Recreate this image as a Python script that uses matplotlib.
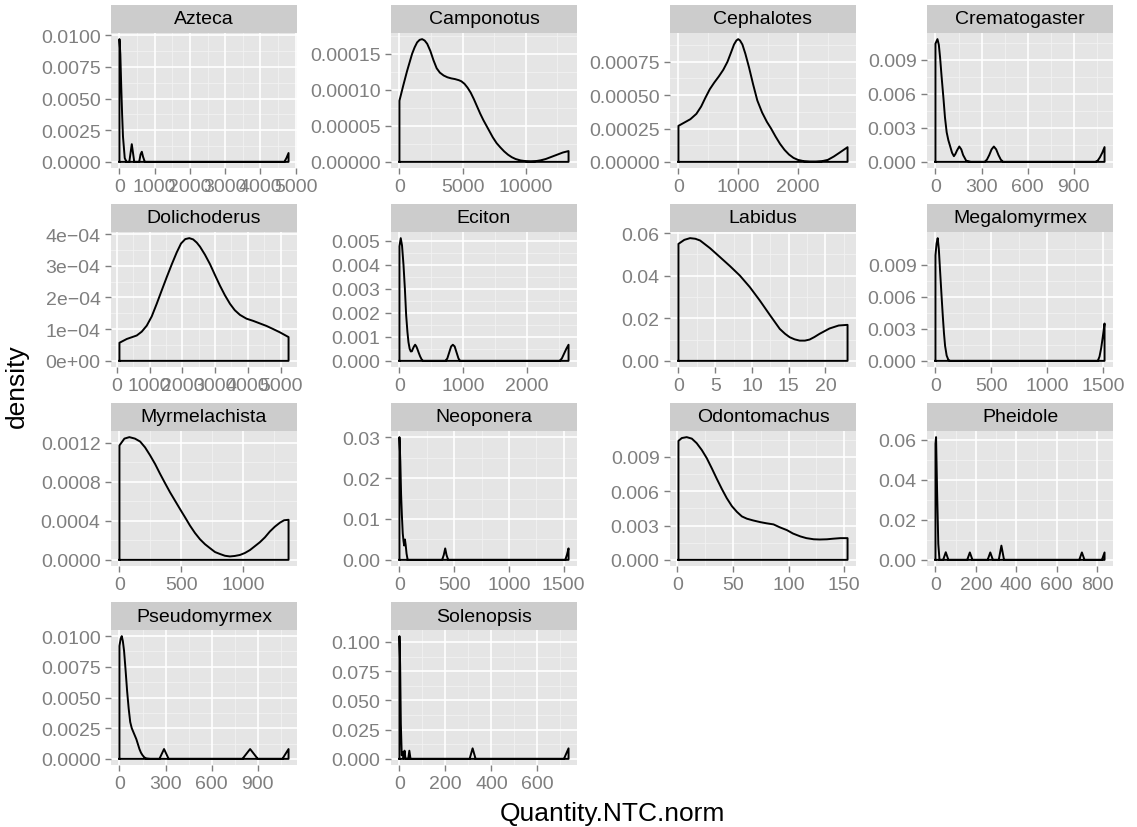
import matplotlib
matplotlib.use("Agg")
import matplotlib.pyplot as plt

plt.rcParams['font.family'] = ['Liberation Sans', 'DejaVu Sans']

# density curves (x = Quantity.NTC.norm, y = density)
azteca_x = [0, 25, 50, 75, 100, 150, 200, 280, 320, 350, 380, 420, 560, 600, 635, 670, 720, 4680, 4740, 4800]
azteca_y = [0.0097, 0.0085, 0.006, 0.0038, 0.002, 0.0003, 0, 0, 0.0008, 0.0014, 0.0008, 0, 0, 0.0006, 0.0008, 0.0004, 0, 0, 0.0003, 0.0007]

camponotus_x = [0, 300, 600, 1000, 1200, 1400, 1600, 1800, 2000, 2200, 2450, 2700, 2950, 3200, 3500, 3800,
                4100, 4400, 4700, 4900, 5150, 5400, 5650, 5900, 6150, 6400, 6650, 6900, 7150, 7400, 7700,
                8000, 8300, 8600, 8900, 9200, 9600, 10000, 10400, 10800, 11200, 11600, 12050, 12500, 12950, 13400]
camponotus_y = [8.5e-5, 10.6e-5, 12.6e-5, 15.0e-5, 15.9e-5, 16.6e-5, 16.95e-5, 17.05e-5, 16.85e-5, 16.4e-5,
                15.4e-5, 14.1e-5, 13.0e-5, 12.4e-5, 12.0e-5, 11.75e-5, 11.6e-5, 11.5e-5, 11.35e-5, 11.2e-5,
                10.85e-5, 10.3e-5, 9.6e-5, 8.7e-5, 7.7e-5, 6.7e-5, 5.8e-5, 5.0e-5, 4.2e-5, 3.4e-5, 2.6e-5,
                2.0e-5, 1.45e-5, 1.0e-5, 0.65e-5, 0.4e-5, 0.2e-5, 0.1e-5, 0.07e-5, 0.1e-5, 0.22e-5,
                0.4e-5, 0.7e-5, 1.0e-5, 1.3e-5, 1.5e-5]

cephalotes_x = [0, 100, 200, 300, 380, 450, 525, 600, 675, 750, 820, 880, 930, 970, 1000, 1030, 1070, 1120,
                1180, 1250, 1320, 1400, 1480, 1550, 1625, 1700, 1775, 1850, 1925, 2000, 2100, 2200, 2300,
                2400, 2500, 2600, 2700, 2830]
cephalotes_y = [2.7e-4, 2.95e-4, 3.2e-4, 3.6e-4, 4.15e-4, 4.8e-4, 5.45e-4, 5.95e-4, 6.4e-4, 6.9e-4, 7.5e-4,
                8.2e-4, 8.8e-4, 9.1e-4, 9.2e-4, 9.1e-4, 8.8e-4, 8.1e-4, 7.1e-4, 5.8e-4, 4.6e-4, 3.7e-4,
                3.0e-4, 2.5e-4, 1.9e-4, 1.35e-4, 0.9e-4, 0.55e-4, 0.3e-4, 0.15e-4, 0.05e-4, 0.02e-4,
                0.02e-4, 0.05e-4, 0.15e-4, 0.4e-4, 0.7e-4, 1.1e-4]

crematogaster_x = [0, 13, 22, 30, 40, 52, 62, 73, 84, 95, 108, 120, 130, 140, 155, 168, 180, 200, 230,
                   320, 335, 350, 365, 380, 395, 410, 425, 440, 1040, 1055, 1070, 1085, 1100]
crematogaster_y = [0.0104, 0.0108, 0.0103, 0.0092, 0.0075, 0.0056, 0.0039, 0.0026, 0.0019, 0.0014, 0.0008,
                   0.0005, 0.0007, 0.001, 0.00135, 0.0011, 0.0006, 0.0001, 0, 0, 0.0002, 0.0006, 0.0011,
                   0.00135, 0.0011, 0.0006, 0.0002, 0, 0, 0.0001, 0.0004, 0.0008, 0.0013]

dolichoderus_x = [80, 303, 608, 760, 913, 1065, 1218, 1370, 1524, 1680, 1829, 1960, 2090, 2213, 2330, 2440,
                  2540, 2690, 2845, 3000, 3150, 3300, 3455, 3600, 3760, 3960, 4167, 4370, 4573, 4780, 4980, 5244]
dolichoderus_y = [0.57e-4, 0.69e-4, 0.8e-4, 0.92e-4, 1.11e-4, 1.4e-4, 1.8e-4, 2.22e-4, 2.64e-4, 3.05e-4,
                  3.42e-4, 3.7e-4, 3.84e-4, 3.87e-4, 3.83e-4, 3.73e-4, 3.6e-4, 3.35e-4, 3.05e-4, 2.7e-4,
                  2.37e-4, 2.07e-4, 1.8e-4, 1.6e-4, 1.45e-4, 1.33e-4, 1.26e-4, 1.18e-4, 1.1e-4, 1.0e-4,
                  0.9e-4, 0.75e-4]

eciton_x = [0, 20, 40, 63, 85, 105, 125, 141, 160, 178, 195, 210, 228, 246, 264, 280, 300, 325, 350, 370,
            720, 750, 780, 810, 837, 865, 895, 925, 950, 2510, 2545, 2580, 2615, 2650]
eciton_y = [0.00476, 0.0051, 0.0048, 0.004, 0.003, 0.0019, 0.0012, 0.00078, 0.0005, 0.00039, 0.0004,
            0.0005, 0.0006, 0.00067, 0.0006, 0.0005, 0.00035, 0.00018, 0.00005, 0, 0, 0.0001, 0.00035,
            0.0006, 0.00067, 0.0006, 0.00035, 0.0001, 0, 0, 0.0001, 0.0003, 0.0005, 0.00067]

labidus_x = [0, 0.8, 1.58, 2.3, 2.94, 4.29, 5.65, 7.0, 8.36, 9.71, 11.07, 12.42, 13.78, 14.5, 15.13, 15.8,
             16.49, 17.2, 17.84, 18.5, 19.2, 20.55, 21.8, 23]
labidus_y = [0.0549, 0.0568, 0.0576, 0.0573, 0.0565, 0.0529, 0.0487, 0.0445, 0.04, 0.0346, 0.0283, 0.0216,
             0.015, 0.0127, 0.0111, 0.0101, 0.0095, 0.0095, 0.01, 0.0112, 0.0127, 0.0152, 0.0166, 0.0169]

megalomyrmex_x = [0, 10, 20, 30, 42, 55, 65, 76, 86, 100, 115, 130, 1450, 1465, 1480, 1495, 1510]
megalomyrmex_y = [0.0099, 0.011, 0.0115, 0.0105, 0.0083, 0.006, 0.0043, 0.0026, 0.0014, 0.0005, 0.0001,
                  0, 0, 0.0004, 0.0012, 0.0023, 0.0035]

myrmelachista_x = [0, 40, 80, 125, 167, 207, 247, 288, 328, 368, 409, 449, 489, 530, 570, 610, 651, 691, 731,
                   772, 812, 852, 892, 932, 973, 1013, 1054, 1094, 1134, 1175, 1215, 1256, 1296, 1330, 1366]
myrmelachista_y = [0.00117, 0.00124, 0.001255, 0.00124, 0.00121, 0.00115, 0.00107, 0.00098, 0.00088,
                   0.000785, 0.00069, 0.000605, 0.00052, 0.000435, 0.00035, 0.000275, 0.00021, 0.00016,
                   0.00012, 0.00008, 0.00006, 0.000042, 0.000035, 0.00004, 0.00005, 0.00007, 0.0001,
                   0.00014, 0.00018, 0.00023, 0.00029, 0.00034, 0.00038, 0.000405, 0.00041]

neoponera_x = [0, 8, 15, 22, 30, 37, 43, 50, 57, 65, 75, 390, 405, 418, 430, 445, 1515, 1530, 1545]
neoponera_y = [0.030, 0.024, 0.016, 0.011, 0.0065, 0.0046, 0.0035, 0.005, 0.0036, 0.0015, 0, 0, 0.0012,
               0.0028, 0.0012, 0, 0, 0.0012, 0.0028]

odontomachus_x = [1, 4, 8.4, 13, 17.4, 22, 26.4, 31, 35.4, 40, 44.4, 49, 53.5, 58, 62.5, 68, 74.5, 80, 86.5,
                  92, 98.5, 104, 110.6, 116, 122.6, 128, 134.6, 140, 146.6, 153]
odontomachus_y = [0.0104, 0.01065, 0.01073, 0.0106, 0.0102, 0.0096, 0.0089, 0.008, 0.0071, 0.0062, 0.0054,
                  0.0047, 0.0042, 0.0038, 0.0036, 0.00345, 0.0033, 0.0032, 0.0031, 0.00285, 0.0026,
                  0.0023, 0.00205, 0.0019, 0.0018, 0.00178, 0.0018, 0.00185, 0.0019, 0.0019]

pheidole_x = [0, 3, 8, 14, 20, 38, 51, 64, 157, 170, 183, 258, 271, 284, 313, 326, 339, 711, 724, 737, 823, 836]
pheidole_y = [0.058, 0.0612, 0.035, 0.008, 0, 0, 0.0038, 0, 0, 0.0037, 0, 0, 0.0037, 0, 0, 0.0071, 0, 0,
              0.0037, 0, 0, 0.0037]

pseudomyrmex_x = [0, 8, 15, 22, 30, 40, 50, 60, 70, 80, 90, 100, 110, 120, 130, 140, 150, 162, 175, 200,
                  260, 275, 290, 305, 320, 800, 825, 850, 875, 900, 1060, 1080, 1100]
pseudomyrmex_y = [0.0092, 0.0098, 0.0100, 0.0096, 0.0088, 0.0072, 0.0055, 0.0041, 0.003, 0.0025, 0.0022,
                  0.0019, 0.0016, 0.0012, 0.0008, 0.0005, 0.0003, 0.00012, 0.00003, 0, 0, 0.0004, 0.0008,
                  0.0004, 0, 0, 0.0004, 0.0008, 0.0004, 0, 0, 0.0004, 0.0008]

solenopsis_x = [0, 3, 6, 10, 14, 18, 22, 26, 32, 38, 43, 48, 305, 318, 331, 715, 735]
solenopsis_y = [0.105, 0.08, 0.03, 0.003, 0.006, 0.0005, 0.007, 0.0005, 0, 0, 0.007, 0, 0, 0.009, 0, 0, 0.009]

# axis breaks per panel
xticks = {
    "Azteca": [0, 1000, 2000, 3000, 4000, 5000],
    "Camponotus": [0, 5000, 10000],
    "Cephalotes": [0, 1000, 2000],
    "Crematogaster": [0, 300, 600, 900],
    "Dolichoderus": [0, 1000, 2000, 3000, 4000, 5000],
    "Eciton": [0, 1000, 2000],
    "Labidus": [0, 5, 10, 15, 20],
    "Megalomyrmex": [0, 500, 1000, 1500],
    "Myrmelachista": [0, 500, 1000],
    "Neoponera": [0, 500, 1000, 1500],
    "Odontomachus": [0, 50, 100, 150],
    "Pheidole": [0, 200, 400, 600, 800],
    "Pseudomyrmex": [0, 300, 600, 900],
    "Solenopsis": [0, 200, 400, 600],
}
yticks = {
    "Azteca": [0, 0.0025, 0.005, 0.0075, 0.01],
    "Camponotus": [0, 5e-5, 1e-4, 1.5e-4],
    "Cephalotes": [0, 0.00025, 0.0005, 0.00075],
    "Crematogaster": [0, 0.003, 0.006, 0.009],
    "Dolichoderus": [0, 1e-4, 2e-4, 3e-4, 4e-4],
    "Eciton": [0, 0.001, 0.002, 0.003, 0.004, 0.005],
    "Labidus": [0, 0.02, 0.04, 0.06],
    "Megalomyrmex": [0, 0.003, 0.006, 0.009],
    "Myrmelachista": [0, 0.0004, 0.0008, 0.0012],
    "Neoponera": [0, 0.01, 0.02, 0.03],
    "Odontomachus": [0, 0.003, 0.006, 0.009],
    "Pheidole": [0, 0.02, 0.04, 0.06],
    "Pseudomyrmex": [0, 0.0025, 0.005, 0.0075, 0.01],
    "Solenopsis": [0, 0.025, 0.05, 0.075, 0.1],
}
ytick_labels = {
    "Azteca": ["0.0000", "0.0025", "0.0050", "0.0075", "0.0100"],
    "Camponotus": ["0.00000", "0.00005", "0.00010", "0.00015"],
    "Cephalotes": ["0.00000", "0.00025", "0.00050", "0.00075"],
    "Crematogaster": ["0.000", "0.003", "0.006", "0.009"],
    "Dolichoderus": ["0e+00", "1e\u221204", "2e\u221204", "3e\u221204", "4e\u221204"],
    "Eciton": ["0.000", "0.001", "0.002", "0.003", "0.004", "0.005"],
    "Labidus": ["0.00", "0.02", "0.04", "0.06"],
    "Megalomyrmex": ["0.000", "0.003", "0.006", "0.009"],
    "Myrmelachista": ["0.0000", "0.0004", "0.0008", "0.0012"],
    "Neoponera": ["0.00", "0.01", "0.02", "0.03"],
    "Odontomachus": ["0.000", "0.003", "0.006", "0.009"],
    "Pheidole": ["0.00", "0.02", "0.04", "0.06"],
    "Pseudomyrmex": ["0.0000", "0.0025", "0.0050", "0.0075", "0.0100"],
    "Solenopsis": ["0.000", "0.025", "0.050", "0.075", "0.100"],
}

panels = [
    ("Azteca", azteca_x, azteca_y),
    ("Camponotus", camponotus_x, camponotus_y),
    ("Cephalotes", cephalotes_x, cephalotes_y),
    ("Crematogaster", crematogaster_x, crematogaster_y),
    ("Dolichoderus", dolichoderus_x, dolichoderus_y),
    ("Eciton", eciton_x, eciton_y),
    ("Labidus", labidus_x, labidus_y),
    ("Megalomyrmex", megalomyrmex_x, megalomyrmex_y),
    ("Myrmelachista", myrmelachista_x, myrmelachista_y),
    ("Neoponera", neoponera_x, neoponera_y),
    ("Odontomachus", odontomachus_x, odontomachus_y),
    ("Pheidole", pheidole_x, pheidole_y),
    ("Pseudomyrmex", pseudomyrmex_x, pseudomyrmex_y),
    ("Solenopsis", solenopsis_x, solenopsis_y),
]

W, H = 1137, 828
col_left = [111, 391, 670, 927]
panel_w = 186
row_top = [6, 205, 404, 603]
strip_h = 28
panel_h = 135


def px_axes(fig, left, top, width, height):
    return fig.add_axes([left / W, 1 - (top + height) / H, width / W, height / H])


def minor_breaks(major, lo, hi):
    step = major[1] - major[0]
    cands = [major[0] - step / 2] + [m + step / 2 for m in major]
    return [c for c in cands if lo < c < hi]


fig = plt.figure(figsize=(W / 100, H / 100), dpi=100)

for i, (name, xs, ys) in enumerate(panels):
    r, c = divmod(i, 4)
    left, top = col_left[c], row_top[r]

    strip = px_axes(fig, left, top, panel_w, strip_h)
    strip.set_facecolor("#CCCCCC")
    strip.set_xticks([])
    strip.set_yticks([])
    for s in strip.spines.values():
        s.set_visible(False)
    strip.text(0.5, 0.5, name, ha="center", va="center", fontsize=14, color="black",
               transform=strip.transAxes)

    ax = px_axes(fig, left, top + strip_h, panel_w, panel_h)
    ax.set_facecolor("#E5E5E5")
    for s in ax.spines.values():
        s.set_visible(False)

    span = max(xs) - min(xs)
    x_lo, x_hi = min(xs) - 0.05 * span, max(xs) + 0.05 * span
    ymax = max(ys)
    y_lo, y_hi = -0.05 * ymax, 1.05 * ymax
    ax.set_xlim(x_lo, x_hi)
    ax.set_ylim(y_lo, y_hi)

    xt, yt = xticks[name], yticks[name]
    for m in minor_breaks(xt, x_lo, x_hi):
        ax.axvline(m, color="#F2F2F2", lw=0.6, zorder=0)
    for m in minor_breaks(yt, y_lo, y_hi):
        ax.axhline(m, color="#F2F2F2", lw=0.6, zorder=0)
    for m in xt:
        ax.axvline(m, color="white", lw=1.2, zorder=0)
    for m in yt:
        ax.axhline(m, color="white", lw=1.2, zorder=0)

    ax.set_xticks(xt)
    ax.set_xticklabels([str(v) for v in xt])
    ax.set_yticks(yt)
    ax.set_yticklabels(ytick_labels[name])
    ax.tick_params(length=4.5, width=1, color="#7F7F7F", labelcolor="#7F7F7F", labelsize=14, pad=3)

    # outline of the density area, closed along the baseline like geom_density
    px = [xs[0]] + list(xs) + [xs[-1], xs[0]]
    py = [0] + list(ys) + [0, 0]
    ax.plot(px, py, color="black", lw=1.4, solid_joinstyle="round", zorder=3)

fig.text(612 / W, 1 - 814 / H, "Quantity.NTC.norm", ha="center", va="center", fontsize=19)
fig.text(17 / W, 1 - 386 / H, "density", ha="center", va="center", rotation=90, fontsize=19)

fig.savefig("out.png", dpi=100)
